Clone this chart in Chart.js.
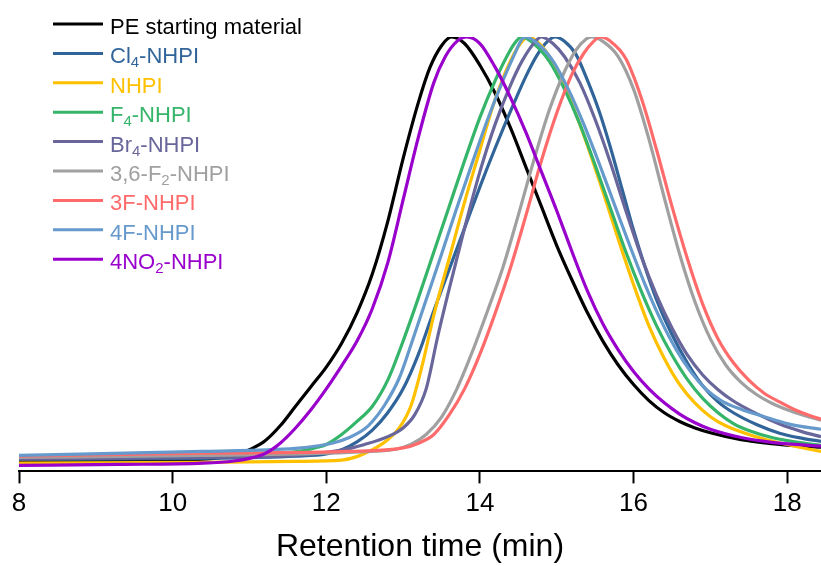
<!DOCTYPE html>
<html>
<head>
<meta charset="utf-8">
<script src="https://cdn.jsdelivr.net/npm/chart.js@4.4.1/dist/chart.umd.min.js"></script>
<style>
html,body{margin:0;padding:0;background:#fff;}
#wrap{width:821px;height:566px;}
</style>
</head>
<body>
<div id="wrap"><canvas id="c" width="821" height="566"></canvas></div>
<script>
// ---- Data (normalized detector signal) ----
const seriesNames = ['PE starting material', 'Cl₄-NHPI', 'NHPI', 'F₄-NHPI', 'Br₄-NHPI', '3,6-F₂-NHPI', '3F-NHPI', '4F-NHPI', '4NO₂-NHPI'];
const seriesColors = ['#000000', '#31659A', '#FFC000', '#35B56A', '#68669A', '#A0A0A0', '#FF6B6B', '#6699CC', '#9900CC'];
const xTickStep = 2;
const xMin = 8, xMax = 18.44;

const peTime   = [8.0, 9.5, 10.4, 10.7, 10.9, 11.0, 11.2, 11.4, 11.6, 11.8, 12.0, 12.2, 12.4, 12.6, 12.8, 13.0, 13.2, 13.35, 13.5, 13.63, 13.8, 14.0, 14.2, 14.4, 14.6, 14.8, 15.0, 15.2, 15.4, 15.6, 15.8, 16.0, 16.2, 16.4, 16.6, 16.8, 17.0, 17.4, 17.8, 18.2, 18.44];
const peSignal = [0.023, 0.026, 0.028, 0.034, 0.042, 0.050, 0.070, 0.105, 0.150, 0.195, 0.240, 0.295, 0.365, 0.455, 0.575, 0.720, 0.850, 0.930, 0.980, 1.000, 0.985, 0.935, 0.870, 0.790, 0.700, 0.610, 0.520, 0.440, 0.365, 0.300, 0.245, 0.200, 0.163, 0.135, 0.115, 0.100, 0.089, 0.073, 0.064, 0.058, 0.056];

const cl4Time   = [8.0, 10.4, 11.6, 12.0, 12.2, 12.4, 12.6, 12.8, 13.0, 13.2, 13.4, 13.6, 13.8, 14.0, 14.2, 14.4, 14.6, 14.75, 14.88, 14.98, 15.1, 15.25, 15.4, 15.55, 15.7, 15.85, 16.0, 16.15, 16.3, 16.5, 16.7, 16.9, 17.1, 17.3, 17.6, 17.9, 18.2, 18.44];
const cl4Signal = [0.028, 0.030, 0.035, 0.040, 0.050, 0.068, 0.095, 0.135, 0.190, 0.270, 0.370, 0.465, 0.560, 0.655, 0.745, 0.830, 0.910, 0.960, 0.990, 1.000, 0.990, 0.960, 0.900, 0.830, 0.745, 0.650, 0.555, 0.470, 0.395, 0.315, 0.250, 0.197, 0.160, 0.135, 0.108, 0.088, 0.076, 0.069];

const nhpiTime   = [8.0, 10.4, 11.6, 12.2, 12.4, 12.6, 12.8, 12.95, 13.1, 13.25, 13.4, 13.6, 13.8, 14.0, 14.15, 14.3, 14.45, 14.55, 14.63, 14.8, 15.0, 15.2, 15.4, 15.6, 15.8, 16.0, 16.2, 16.4, 16.6, 16.8, 17.0, 17.2, 17.5, 17.8, 18.1, 18.44];
const nhpiSignal = [0.019, 0.021, 0.023, 0.026, 0.034, 0.050, 0.073, 0.100, 0.150, 0.245, 0.360, 0.490, 0.620, 0.740, 0.830, 0.905, 0.963, 0.990, 1.000, 0.980, 0.925, 0.845, 0.750, 0.645, 0.535, 0.430, 0.335, 0.260, 0.200, 0.157, 0.126, 0.105, 0.085, 0.070, 0.058, 0.046];

const f4Time   = [8.0, 10.4, 11.4, 11.7, 11.9, 12.0, 12.2, 12.4, 12.6, 12.8, 13.0, 13.2, 13.4, 13.6, 13.8, 14.0, 14.2, 14.35, 14.45, 14.54, 14.7, 14.9, 15.1, 15.3, 15.5, 15.7, 15.9, 16.1, 16.3, 16.5, 16.7, 16.9, 17.1, 17.3, 17.5, 17.8, 18.1, 18.44];
const f4Signal = [0.030, 0.035, 0.042, 0.048, 0.056, 0.062, 0.085, 0.115, 0.150, 0.210, 0.300, 0.400, 0.505, 0.610, 0.715, 0.815, 0.900, 0.955, 0.985, 1.000, 0.985, 0.945, 0.880, 0.800, 0.705, 0.605, 0.505, 0.415, 0.335, 0.268, 0.212, 0.168, 0.135, 0.110, 0.094, 0.078, 0.068, 0.060];

const br4Time   = [8.0, 10.4, 11.6, 12.2, 12.5, 12.8, 13.0, 13.15, 13.3, 13.45, 13.6, 13.8, 14.0, 14.2, 14.4, 14.55, 14.7, 14.8, 14.95, 15.1, 15.3, 15.5, 15.7, 15.9, 16.1, 16.3, 16.5, 16.7, 16.9, 17.1, 17.3, 17.6, 17.9, 18.2, 18.44];
const br4Signal = [0.028, 0.032, 0.037, 0.049, 0.062, 0.080, 0.100, 0.130, 0.190, 0.310, 0.420, 0.560, 0.690, 0.800, 0.890, 0.945, 0.985, 1.000, 0.985, 0.955, 0.895, 0.810, 0.710, 0.600, 0.495, 0.405, 0.330, 0.268, 0.222, 0.188, 0.162, 0.133, 0.109, 0.091, 0.080];

const f2Time   = [8.0, 10.4, 12.3, 12.9, 13.1, 13.3, 13.5, 13.7, 13.9, 14.1, 14.3, 14.5, 14.7, 14.9, 15.1, 15.25, 15.38, 15.45, 15.6, 15.8, 16.0, 16.2, 16.4, 16.6, 16.8, 17.0, 17.2, 17.4, 17.6, 17.8, 18.0, 18.2, 18.44];
const f2Signal = [0.032, 0.037, 0.044, 0.051, 0.062, 0.085, 0.125, 0.190, 0.275, 0.370, 0.470, 0.590, 0.715, 0.830, 0.920, 0.970, 0.995, 1.000, 0.990, 0.955, 0.880, 0.765, 0.630, 0.500, 0.390, 0.305, 0.245, 0.205, 0.177, 0.157, 0.142, 0.130, 0.118];

const f3Time   = [8.0, 10.4, 12.3, 13.0, 13.2, 13.4, 13.6, 13.8, 14.0, 14.2, 14.4, 14.6, 14.8, 15.0, 15.2, 15.35, 15.48, 15.57, 15.7, 15.9, 16.1, 16.3, 16.5, 16.7, 16.9, 17.1, 17.3, 17.5, 17.7, 17.9, 18.1, 18.3, 18.44];
const f3Signal = [0.035, 0.042, 0.046, 0.054, 0.065, 0.085, 0.130, 0.190, 0.270, 0.365, 0.470, 0.590, 0.715, 0.825, 0.915, 0.962, 0.990, 1.000, 0.990, 0.950, 0.860, 0.740, 0.610, 0.490, 0.385, 0.305, 0.250, 0.210, 0.180, 0.160, 0.142, 0.128, 0.120];

const f4pTime   = [8.0, 10.4, 11.6, 11.9, 12.1, 12.3, 12.5, 12.6, 12.75, 12.95, 13.1, 13.3, 13.5, 13.7, 13.9, 14.1, 14.3, 14.45, 14.53, 14.59, 14.75, 14.95, 15.15, 15.35, 15.55, 15.75, 15.95, 16.15, 16.35, 16.55, 16.75, 16.95, 17.15, 17.4, 17.7, 18.0, 18.2, 18.44];
const f4pSignal = [0.037, 0.046, 0.053, 0.059, 0.066, 0.078, 0.098, 0.115, 0.150, 0.215, 0.290, 0.395, 0.500, 0.607, 0.710, 0.810, 0.900, 0.960, 0.990, 1.000, 0.985, 0.945, 0.880, 0.800, 0.710, 0.615, 0.520, 0.430, 0.350, 0.282, 0.228, 0.188, 0.162, 0.143, 0.126, 0.110, 0.103, 0.097];

const no2Time   = [8.0, 9.3, 10.4, 10.8, 11.0, 11.2, 11.4, 11.6, 11.8, 12.0, 12.2, 12.4, 12.6, 12.8, 13.0, 13.2, 13.4, 13.55, 13.7, 13.83, 14.0, 14.2, 14.4, 14.6, 14.8, 15.0, 15.2, 15.4, 15.6, 15.8, 16.0, 16.2, 16.4, 16.6, 16.8, 17.0, 17.4, 17.8, 18.2, 18.44];
const no2Signal = [0.014, 0.016, 0.019, 0.024, 0.030, 0.041, 0.065, 0.100, 0.142, 0.190, 0.243, 0.300, 0.375, 0.480, 0.625, 0.770, 0.895, 0.955, 0.990, 1.000, 0.985, 0.930, 0.860, 0.780, 0.690, 0.600, 0.505, 0.415, 0.340, 0.280, 0.230, 0.190, 0.158, 0.132, 0.112, 0.097, 0.078, 0.067, 0.061, 0.058];

const seriesTimes   = [peTime, cl4Time, nhpiTime, f4Time, br4Time, f2Time, f3Time, f4pTime, no2Time];
const seriesSignals = [peSignal, cl4Signal, nhpiSignal, f4Signal, br4Signal, f2Signal, f3Signal, f4pSignal, no2Signal];

// ---- Build chart ----
const FONT = '"Liberation Sans", Arial, Helvetica, sans-serif';
const datasets = seriesNames.map((name, i) => ({
  label: name,
  data: seriesTimes[i].map((t, k) => ({ x: t, y: seriesSignals[i][k] })),
  borderColor: seriesColors[i],
  backgroundColor: seriesColors[i],
  borderWidth: 3.2,
  pointRadius: 0,
  fill: false,
  cubicInterpolationMode: 'monotone',
  order: seriesNames.length - i
}));

const subMap = {'₀':'0','₁':'1','₂':'2','₃':'3','₄':'4','₅':'5','₆':'6','₇':'7','₈':'8','₉':'9'};
function splitRuns(str) {
  const runs = [];
  for (const ch of str) {
    const sub = subMap[ch] !== undefined;
    const c = sub ? subMap[ch] : ch;
    if (runs.length && runs[runs.length - 1].sub === sub) runs[runs.length - 1].text += c;
    else runs.push({ sub, text: c });
  }
  return runs;
}

const insetLegend = {
  id: 'insetLegend',
  afterDatasetsDraw(chart) {
    const ctx = chart.ctx;
    const fs = 22, subFs = 15;
    const x0 = 53, x1 = 103, tx = 110, top = 24, step = 29.4;
    chart.data.datasets.forEach((ds, i) => {
      const y = top + i * step;
      ctx.save();
      ctx.strokeStyle = ds.borderColor;
      ctx.lineWidth = 3;
      ctx.beginPath(); ctx.moveTo(x0, y); ctx.lineTo(x1, y); ctx.stroke();
      ctx.fillStyle = ds.borderColor;
      ctx.textBaseline = 'alphabetic';
      ctx.textAlign = 'left';
      let x = tx;
      for (const run of splitRuns(ds.label)) {
        ctx.font = (run.sub ? subFs : fs) + 'px ' + FONT;
        ctx.fillText(run.text, x, y + 10 + (run.sub ? 4 : 0));
        x += ctx.measureText(run.text).width;
      }
      ctx.restore();
    });
  }
};

new Chart(document.getElementById('c'), {
  type: 'line',
  data: { datasets },
  options: {
    responsive: false,
    animation: false,
    events: [],
    layout: { padding: { left: 19, right: 0, top: 37, bottom: 0 } },
    plugins: { legend: { display: false }, tooltip: { enabled: false }, title: { display: false } },
    scales: {
      x: {
        type: 'linear', min: xMin, max: xMax,
        ticks: { stepSize: xTickStep, includeBounds: false, color: '#000', padding: 5, maxRotation: 0,
                 font: { size: 26, family: FONT } },
        grid: { display: true, drawOnChartArea: false, drawTicks: true, tickLength: 12, tickWidth: 2, tickColor: '#000' },
        border: { display: true, color: '#000', width: 2 },
        title: { display: true, text: 'Retention time (min)', color: '#000', font: { size: 32, family: FONT },
                 padding: { top: 3, bottom: 0 } }
      },
      y: { display: false, min: 0, max: 1 }
    }
  },
  plugins: [insetLegend]
});
</script>
</body>
</html>
